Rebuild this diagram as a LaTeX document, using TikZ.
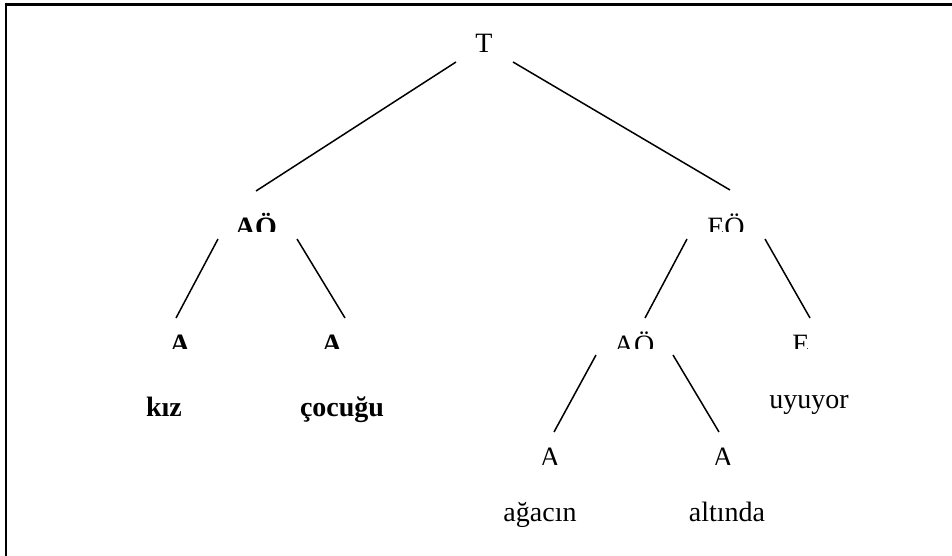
\documentclass[tikz,border=0pt]{standalone}
\usepackage{fontspec}
\setmainfont{Liberation Serif}
\begin{document}
\begin{tikzpicture}[x=1pt,y=-1pt,
  lbl/.style={inner sep=0pt, anchor=base, font=\fontsize{28}{30}\selectfont},
  blbl/.style={inner sep=0pt, anchor=base, font=\fontsize{28}{30}\selectfont\bfseries},
  edge/.style={line width=1.5pt},
  frameline/.style={line width=2.2pt, line join=miter}]
\useasboundingbox (0,0) rectangle (952,556);
% frame (top and left edges)
\coordinate (fa) at (6,556);
\coordinate (fb) at (6,4.5);
\coordinate (fc) at (952,4.5);
\draw[frameline] (fa) -- (fb) -- (fc);

% labels
\node[lbl] (T) at (484,53) {T};
\begin{scope}\clip (200,200) rectangle (320,231);
  \node[blbl] (AOL) at (256,236) {AÖ};
\end{scope}
\begin{scope}\clip (680,200) rectangle (780,231);
  \node[lbl] (EO) at (726,236) {EÖ};
\end{scope}
\begin{scope}\clip (150,320) rectangle (360,348);
  \node[blbl] (A1) at (180,353.5) {A};
  \node[blbl] (A2) at (332,353.5) {A};
\end{scope}
\begin{scope}\clip (590,320) rectangle (840,348);
  \node[lbl] (AOR) at (634,354) {AÖ};
  \node[lbl] (E) at (801,353.5) {E};
\end{scope}
\begin{scope}\clip (520,430) rectangle (760,464.5);
  \node[lbl] (A3) at (550,466.5) {A};
  \node[lbl] (A4) at (723,466.5) {A};
\end{scope}
\node[blbl] (kiz) at (164,416) {kız};
\node[blbl] (cocugu) at (342,416) {çocuğu};
\node[lbl] (uyuyor) at (809,408) {uyuyor};
\node[lbl] (agacin) at (540,521) {ağacın};
\node[lbl] (altinda) at (727,521) {altında};

% connector end points
\coordinate (T-l) at (456,62);   \coordinate (AOL-t) at (256,191);
\coordinate (T-r) at (513,62);   \coordinate (EO-t) at (730,190);
\coordinate (AOL-l) at (218,239); \coordinate (A1-t) at (176,318);
\coordinate (AOL-r) at (297,239); \coordinate (A2-t) at (345,318);
\coordinate (EO-l) at (687,239);  \coordinate (AOR-t) at (645,318);
\coordinate (EO-r) at (765,239);  \coordinate (E-t) at (810,318);
\coordinate (AOR-l) at (596,355); \coordinate (A3-t) at (554,432);
\coordinate (AOR-r) at (673,355); \coordinate (A4-t) at (719,432);

\draw[edge] (T-l) -- (AOL-t);
\draw[edge] (T-r) -- (EO-t);
\draw[edge] (AOL-l) -- (A1-t);
\draw[edge] (AOL-r) -- (A2-t);
\draw[edge] (EO-l) -- (AOR-t);
\draw[edge] (EO-r) -- (E-t);
\draw[edge] (AOR-l) -- (A3-t);
\draw[edge] (AOR-r) -- (A4-t);
\end{tikzpicture}
\end{document}
